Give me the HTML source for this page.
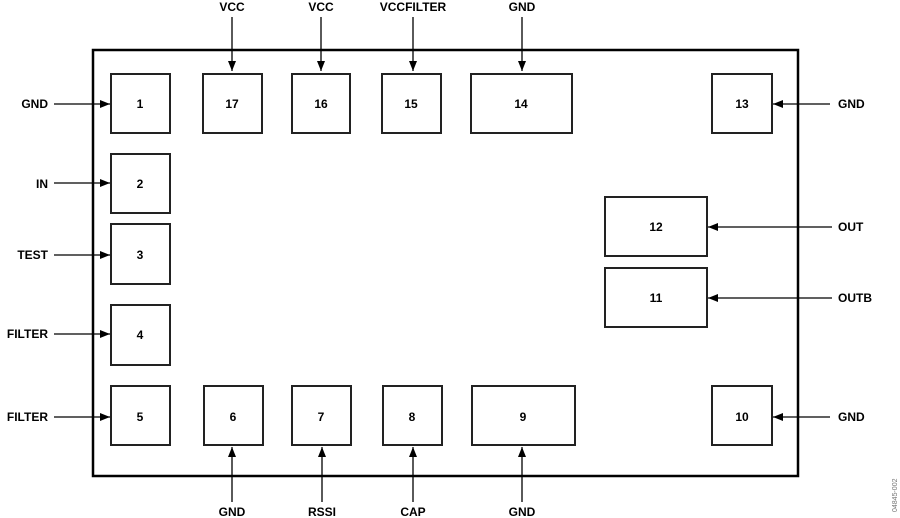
<!DOCTYPE html>
<html><head><meta charset="utf-8"><style>
html,body{margin:0;padding:0;background:#fff;}
svg{display:block;}
text{font-family:"Liberation Sans",Arial,sans-serif;font-weight:bold;font-size:12px;fill:#000;}
</style></head><body>
<svg width="900" height="518" viewBox="0 0 900 518" xmlns="http://www.w3.org/2000/svg">
<defs>
<marker id="a" markerWidth="10" markerHeight="8" refX="10" refY="4" orient="auto" markerUnits="userSpaceOnUse">
<path d="M0,0 L10,4 L0,8 Z" fill="#000"/></marker>
</defs>
<rect x="93" y="50" width="705" height="426" fill="none" stroke="#000" stroke-width="2.5"/>
<g fill="#fff" stroke="#222" stroke-width="2">
<rect x="111" y="74" width="59" height="59"/>
<rect x="203" y="74" width="59" height="59"/>
<rect x="292" y="74" width="58" height="59"/>
<rect x="382" y="74" width="59" height="59"/>
<rect x="471" y="74" width="101" height="59"/>
<rect x="712" y="74" width="60" height="59"/>
<rect x="111" y="154" width="59" height="59"/>
<rect x="111" y="224" width="59" height="60"/>
<rect x="111" y="305" width="59" height="60"/>
<rect x="111" y="386" width="59" height="59"/>
<rect x="204" y="386" width="59" height="59"/>
<rect x="292" y="386" width="59" height="59"/>
<rect x="383" y="386" width="59" height="59"/>
<rect x="472" y="386" width="103" height="59"/>
<rect x="712" y="386" width="60" height="59"/>
<rect x="605" y="197" width="102" height="59"/>
<rect x="605" y="268" width="102" height="59"/>
</g>
<g stroke="#000" stroke-width="1.3" marker-end="url(#a)">
<line x1="232" y1="17" x2="232" y2="71"/>
<line x1="321" y1="17" x2="321" y2="71"/>
<line x1="413" y1="17" x2="413" y2="71"/>
<line x1="522" y1="17" x2="522" y2="71"/>
<line x1="54" y1="104" x2="110" y2="104"/>
<line x1="54" y1="183" x2="110" y2="183"/>
<line x1="54" y1="255" x2="110" y2="255"/>
<line x1="54" y1="334" x2="110" y2="334"/>
<line x1="54" y1="417" x2="110" y2="417"/>
<line x1="830" y1="104" x2="773" y2="104"/>
<line x1="832" y1="227" x2="708" y2="227"/>
<line x1="832" y1="298" x2="708" y2="298"/>
<line x1="830" y1="417" x2="773" y2="417"/>
<line x1="232" y1="502" x2="232" y2="447"/>
<line x1="322" y1="502" x2="322" y2="447"/>
<line x1="413" y1="502" x2="413" y2="447"/>
<line x1="522" y1="502" x2="522" y2="447"/>
</g>
<g text-anchor="middle">
<text x="232" y="11">VCC</text>
<text x="321" y="11">VCC</text>
<text x="413" y="11">VCCFILTER</text>
<text x="522" y="11">GND</text>
<text x="232" y="516">GND</text>
<text x="322" y="516">RSSI</text>
<text x="413" y="516">CAP</text>
<text x="522" y="516">GND</text>
<text x="140" y="108">1</text>
<text x="232" y="108">17</text>
<text x="321" y="108">16</text>
<text x="411" y="108">15</text>
<text x="521" y="108">14</text>
<text x="742" y="108">13</text>
<text x="140" y="188">2</text>
<text x="140" y="259">3</text>
<text x="140" y="339">4</text>
<text x="140" y="421">5</text>
<text x="233" y="421">6</text>
<text x="321" y="421">7</text>
<text x="412" y="421">8</text>
<text x="523" y="421">9</text>
<text x="742" y="421">10</text>
<text x="656" y="231">12</text>
<text x="656" y="302">11</text>
</g>
<g text-anchor="end">
<text x="48" y="108">GND</text>
<text x="48" y="188">IN</text>
<text x="48" y="259">TEST</text>
<text x="48" y="338">FILTER</text>
<text x="48" y="421">FILTER</text>
</g>
<text x="838" y="108">GND</text>
<text x="838" y="231">OUT</text>
<text x="838" y="302">OUTB</text>
<text x="838" y="421">GND</text>
<text x="0" y="0" transform="translate(897,512) rotate(-90)" style="font-size:7px;font-weight:normal;fill:#777">04845-002</text>
</svg>
</body></html>
